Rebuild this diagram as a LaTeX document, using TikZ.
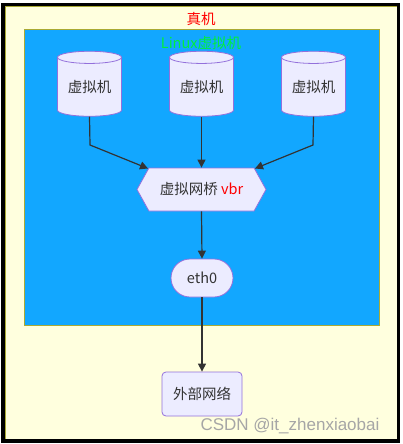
\documentclass[tikz,border=0pt]{standalone}
\usepackage{fontspec}
\setmainfont{Noto Sans CJK SC}
\newfontfamily\wmfont{Liberation Sans}
\usetikzlibrary{shapes.geometric,shapes.symbols,shapes.misc,arrows.meta}
\definecolor{hostfill}{HTML}{FFFFDE}
\definecolor{hostline}{HTML}{AAAA33}
\definecolor{vmblue}{HTML}{12A7FF}
\definecolor{nodefill}{HTML}{ECECFF}
\definecolor{nodeline}{HTML}{9370DB}
\definecolor{txt}{HTML}{333333}
\definecolor{linuxgreen}{HTML}{00F03C}
\tikzset{
  box/.style={draw=nodeline, fill=nodefill, text=txt, line width=0.8pt, font=\fontsize{14.5}{17}\selectfont},
  link/.style={draw=txt, line width=1.2pt, -{Triangle[length=8pt,width=8pt]}}
}
\begin{document}
\begin{tikzpicture}[x=1pt, y=-1pt]
    \useasboundingbox (0,0) rectangle (402,444);
    \fill[white] (0,0) rectangle (402,444);
    \draw[fill=hostfill, draw=hostline, line width=0.8pt] (5.5,6) rectangle (397,439.5); % host box
    \draw[black, line width=3.5pt] (3.2,4.5) rectangle (398.7,441); % frame
    \draw[fill=vmblue, draw=hostline, line width=0.8pt] (24,29) rectangle (379,325); % linux box
    \node[text=red, font=\fontsize{14.5}{17}\selectfont] (hostlabel) at (201,19) {真机};
    \node[text=linuxgreen, font=\fontsize{14.5}{17}\selectfont] (linuxlabel) at (201,43) {Linux虚拟机};
    \node[box, cylinder, shape border rotate=90, aspect=0.28, minimum width=64pt, minimum height=65pt, inner sep=0pt] (vmA) at (89.5,87) {虚拟机};
    \node[box, cylinder, shape border rotate=90, aspect=0.28, minimum width=64pt, minimum height=65pt, inner sep=0pt] (vmB) at (201.5,87) {虚拟机};
    \node[box, cylinder, shape border rotate=90, aspect=0.28, minimum width=64pt, minimum height=65pt, inner sep=0pt] (vmC) at (313.5,87) {虚拟机};
    \node[box, signal, signal to=east and west, signal pointer angle=122, minimum width=129pt, minimum height=43pt, inner sep=0pt] (bridge) at (201.5,189.5) {虚拟网桥 \textcolor{red}{vbr}};
    \node[box, rounded rectangle, minimum width=62pt, minimum height=38pt, inner sep=0pt] (eth) at (202,278) {eth0};
    \node[box, rectangle, rounded corners=4pt, minimum width=80pt, minimum height=44pt, inner sep=0pt] (wan) at (202,394) {外部网络};
    \coordinate (bendA) at (90,145);
    \coordinate (bendC) at (313,145);
    \coordinate (inA) at (148,168.5);
    \coordinate (inC) at (255,168.5);
    \draw[link] (vmA.bottom) -- (bendA) -- (inA); % left vm to bridge
    \draw[link] (vmB.bottom) -- (bridge.north); % middle vm
    \draw[link] (vmC.bottom) -- (bendC) -- (inC); % right vm to bridge
    \draw[link] (bridge.south) -- (eth.north);
    \draw[link] (eth.south) -- (wan.north);
    \node[text=black!35, font=\wmfont\fontsize{17}{19}\selectfont] (mark) at (290,426) {CSDN @it\_zhenxiaobai};
\end{tikzpicture}
\end{document}
